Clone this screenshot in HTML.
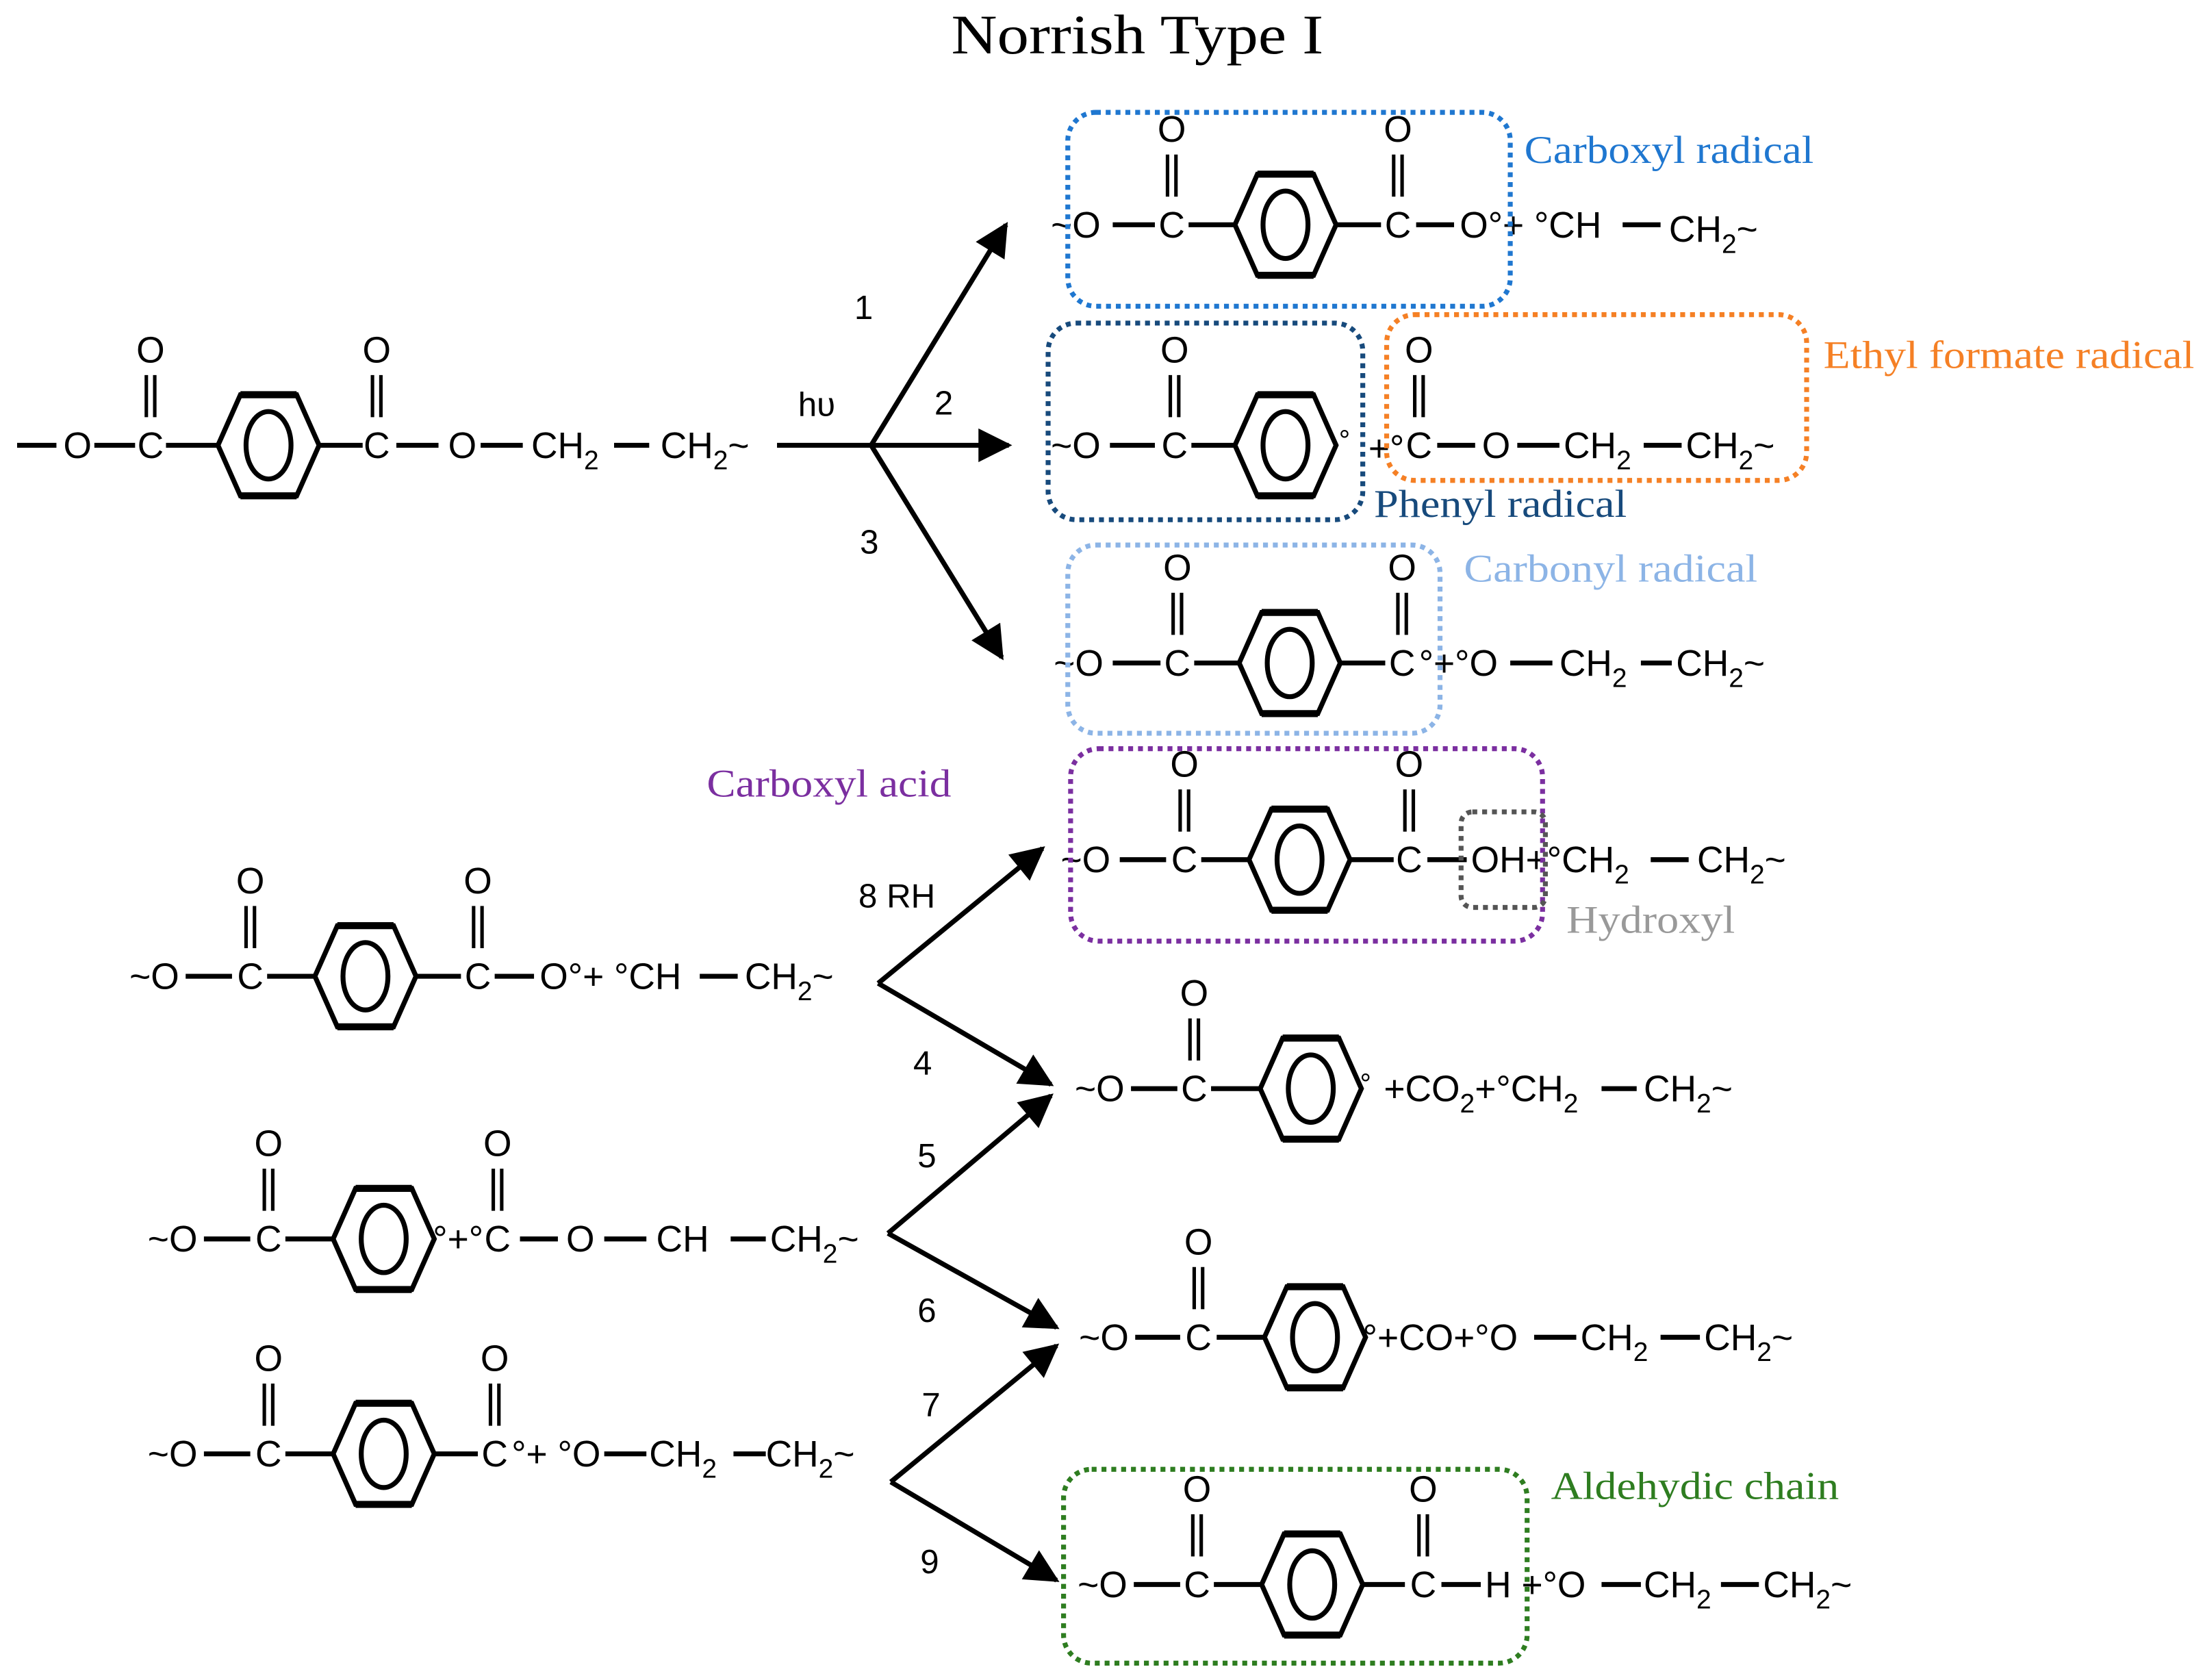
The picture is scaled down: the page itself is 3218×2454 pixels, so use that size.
<!DOCTYPE html>
<html><head><meta charset="utf-8"><style>
html,body{margin:0;padding:0;background:#fff}
svg{display:block}
.a{font-family:"Liberation Sans",Arial,sans-serif;font-size:26px;fill:#000}
.m{text-anchor:middle}
.l{font-family:"Liberation Serif",serif;font-size:28px}
.b line{stroke:#000;stroke-width:3.5}
.box{fill:none;stroke-width:3.5;stroke-dasharray:3.5 3.5}
</style></head><body>
<svg width="3218" height="2454" viewBox="0 0 1568 1196" xmlns="http://www.w3.org/2000/svg">
<defs>
<g id="bz"><polygon points="-36,0 -20,-36 20,-36 36,0 20,36 -20,36" fill="none" stroke="#000" stroke-width="3.5"/><line x1="-20" y1="-36" x2="20" y2="-36" stroke="#000" stroke-width="5"/><line x1="-20" y1="36" x2="20" y2="36" stroke="#000" stroke-width="5"/><ellipse cx="0" cy="0" rx="16" ry="24" fill="none" stroke="#000" stroke-width="3.5"/></g>
<g id="co"><line x1="-3" y1="-20" x2="-3" y2="-50" stroke="#000" stroke-width="2.5"/><line x1="3" y1="-20" x2="3" y2="-50" stroke="#000" stroke-width="2.5"/><text class="a m" x="0" y="-59">O</text><text class="a m" x="0" y="9">C</text></g>
<marker id="ah" viewBox="0 0 10 10" refX="9" refY="5" markerWidth="26" markerHeight="24" orient="auto" markerUnits="userSpaceOnUse"><path d="M0,0 L10,5 L0,10 z" fill="#000"/></marker>
</defs>

<text x="677" y="38" textLength="265" lengthAdjust="spacingAndGlyphs" style="font-family:'Liberation Serif',serif;font-size:40px">Norrish Type I</text>

<g class="b">
<!-- row 0 -->
<line x1="12" y1="317" x2="40" y2="317"/><text class="a m" x="55" y="326">O</text><line x1="67" y1="317" x2="96" y2="317"/>
<use href="#co" x="107" y="317"/><line x1="118" y1="317" x2="155" y2="317"/><use href="#bz" x="191" y="317"/>
<line x1="228" y1="317" x2="258" y2="317"/><use href="#co" x="268" y="317"/><line x1="282" y1="317" x2="312" y2="317"/>
<text class="a m" x="329" y="326">O</text><line x1="342" y1="317" x2="372" y2="317"/>
<text class="a" x="378" y="326">CH<tspan dy="8" font-size="19">2</tspan></text><line x1="437" y1="317" x2="462" y2="317"/>
<text class="a" x="470" y="326">CH<tspan dy="8" font-size="19">2</tspan><tspan dy="-8">~</tspan></text>
<text class="a" x="568" y="296" style="font-size:24px">hυ</text>
<line x1="553" y1="317" x2="620" y2="317"/>
<line x1="620" y1="317" x2="718" y2="317" stroke-width="2.5" marker-end="url(#ah)"/>
<line x1="620" y1="317" x2="716" y2="160" stroke-width="2.5" marker-end="url(#ah)"/>
<line x1="620" y1="317" x2="713" y2="468" stroke-width="2.5" marker-end="url(#ah)"/>
<text class="a" x="608" y="227" style="font-size:24px">1</text>
<text class="a" x="665" y="295" style="font-size:24px">2</text>
<text class="a" x="612" y="394" style="font-size:24px">3</text>

<!-- row 1 -->
<text class="a" x="748" y="169">~O</text><line x1="792" y1="160" x2="822" y2="160"/><use href="#co" x="834" y="160"/>
<line x1="846" y1="160" x2="878" y2="160"/><use href="#bz" x="915" y="160"/><line x1="952" y1="160" x2="983" y2="160"/>
<use href="#co" x="995" y="160"/><line x1="1008" y1="160" x2="1035" y2="160"/>
<text class="a" x="1039" y="169">O°+ °CH</text><line x1="1155" y1="160" x2="1182" y2="160"/>
<text class="a" x="1188" y="172">CH<tspan dy="8" font-size="19">2</tspan><tspan dy="-8">~</tspan></text>

<!-- row 2 -->
<text class="a" x="748" y="326">~O</text><line x1="790" y1="317" x2="822" y2="317"/><use href="#co" x="836" y="317"/>
<line x1="848" y1="317" x2="878" y2="317"/><use href="#bz" x="915" y="317"/>
<text class="a" x="953" y="320" style="font-size:20px">°</text>
<text class="a" x="974" y="328">+°</text><use href="#co" x="1010" y="317"/>
<line x1="1023" y1="317" x2="1050" y2="317"/><text class="a m" x="1065" y="326">O</text><line x1="1080" y1="317" x2="1110" y2="317"/>
<text class="a" x="1113" y="326">CH<tspan dy="8" font-size="19">2</tspan></text><line x1="1170" y1="317" x2="1197" y2="317"/>
<text class="a" x="1200" y="326">CH<tspan dy="8" font-size="19">2</tspan><tspan dy="-8">~</tspan></text>

<!-- row 3 -->
<text class="a" x="750" y="481">~O</text><line x1="792" y1="472" x2="826" y2="472"/><use href="#co" x="838" y="472"/>
<line x1="850" y1="472" x2="882" y2="472"/><use href="#bz" x="918" y="472"/><line x1="955" y1="472" x2="986" y2="472"/>
<use href="#co" x="998" y="472"/><text class="a" x="1010" y="481">°+°O</text><line x1="1075" y1="472" x2="1105" y2="472"/>
<text class="a" x="1110" y="481">CH<tspan dy="8" font-size="19">2</tspan></text><line x1="1168" y1="472" x2="1190" y2="472"/>
<text class="a" x="1193" y="481">CH<tspan dy="8" font-size="19">2</tspan><tspan dy="-8">~</tspan></text>

<!-- row 4 -->
<text class="a" x="755" y="621">~O</text><line x1="797" y1="612" x2="830" y2="612"/><use href="#co" x="843" y="612"/>
<line x1="855" y1="612" x2="888" y2="612"/><use href="#bz" x="925" y="612"/><line x1="962" y1="612" x2="992" y2="612"/>
<use href="#co" x="1003" y="612"/><line x1="1016" y1="612" x2="1044" y2="612"/>
<text class="a" x="1047" y="621">OH+°CH<tspan dy="8" font-size="19">2</tspan></text><line x1="1175" y1="612" x2="1202" y2="612"/>
<text class="a" x="1208" y="621">CH<tspan dy="8" font-size="19">2</tspan><tspan dy="-8">~</tspan></text>

<!-- row A -->
<text class="a" x="92" y="704">~O</text><line x1="132" y1="695" x2="165" y2="695"/><use href="#co" x="178" y="695"/>
<line x1="190" y1="695" x2="224" y2="695"/><use href="#bz" x="260" y="695"/><line x1="297" y1="695" x2="328" y2="695"/>
<use href="#co" x="340" y="695"/><line x1="352" y1="695" x2="380" y2="695"/>
<text class="a" x="384" y="704">O°+ °CH</text><line x1="498" y1="695" x2="525" y2="695"/>
<text class="a" x="530" y="704">CH<tspan dy="8" font-size="19">2</tspan><tspan dy="-8">~</tspan></text>
<line x1="625" y1="700" x2="742" y2="604" stroke-width="2.5" marker-end="url(#ah)"/>
<line x1="625" y1="700" x2="748" y2="772" stroke-width="2.5" marker-end="url(#ah)"/>
<text class="a" x="611" y="646" style="font-size:24px">8  RH</text>
<text class="a" x="650" y="765" style="font-size:24px">4</text>

<!-- row B -->
<text class="a" x="765" y="784">~O</text><line x1="805" y1="775" x2="838" y2="775"/><use href="#co" x="850" y="775"/>
<line x1="862" y1="775" x2="897" y2="775"/><use href="#bz" x="933" y="775"/>
<text class="a" x="968" y="778" style="font-size:20px">°</text>
<text class="a" x="985" y="784">+CO<tspan dy="8" font-size="19">2</tspan><tspan dy="-8">+°CH</tspan><tspan dy="8" font-size="19">2</tspan></text>
<line x1="1140" y1="775" x2="1165" y2="775"/>
<text class="a" x="1170" y="784">CH<tspan dy="8" font-size="19">2</tspan><tspan dy="-8">~</tspan></text>

<!-- row C -->
<text class="a" x="105" y="891">~O</text><line x1="145" y1="882" x2="178" y2="882"/><use href="#co" x="191" y="882"/>
<line x1="203" y1="882" x2="237" y2="882"/><use href="#bz" x="273" y="882"/>
<text class="a" x="308" y="891">°+°</text><use href="#co" x="354" y="882"/>
<line x1="370" y1="882" x2="397" y2="882"/><text class="a m" x="413" y="891">O</text><line x1="430" y1="882" x2="460" y2="882"/>
<text class="a" x="467" y="891">CH</text><line x1="520" y1="882" x2="545" y2="882"/>
<text class="a" x="548" y="891">CH<tspan dy="8" font-size="19">2</tspan><tspan dy="-8">~</tspan></text>
<line x1="632" y1="878" x2="748" y2="780" stroke-width="2.5" marker-end="url(#ah)"/>
<line x1="632" y1="878" x2="752" y2="945" stroke-width="2.5" marker-end="url(#ah)"/>
<text class="a" x="653" y="831" style="font-size:24px">5</text>
<text class="a" x="653" y="941" style="font-size:24px">6</text>

<!-- row D -->
<text class="a" x="768" y="961">~O</text><line x1="808" y1="952" x2="840" y2="952"/><use href="#co" x="853" y="952"/>
<line x1="866" y1="952" x2="900" y2="952"/><use href="#bz" x="936" y="952"/>
<text class="a" x="970" y="961">°+CO+°O</text><line x1="1092" y1="952" x2="1122" y2="952"/>
<text class="a" x="1125" y="961">CH<tspan dy="8" font-size="19">2</tspan></text><line x1="1182" y1="952" x2="1210" y2="952"/>
<text class="a" x="1213" y="961">CH<tspan dy="8" font-size="19">2</tspan><tspan dy="-8">~</tspan></text>

<!-- row E -->
<text class="a" x="105" y="1044">~O</text><line x1="145" y1="1035" x2="178" y2="1035"/><use href="#co" x="191" y="1035"/>
<line x1="203" y1="1035" x2="237" y2="1035"/><use href="#bz" x="273" y="1035"/><line x1="310" y1="1035" x2="340" y2="1035"/>
<use href="#co" x="352" y="1035"/><text class="a" x="364" y="1044">°+ °O</text><line x1="430" y1="1035" x2="460" y2="1035"/>
<text class="a" x="462" y="1044">CH<tspan dy="8" font-size="19">2</tspan></text><line x1="522" y1="1035" x2="545" y2="1035"/>
<text class="a" x="545" y="1044">CH<tspan dy="8" font-size="19">2</tspan><tspan dy="-8">~</tspan></text>
<line x1="634" y1="1055" x2="752" y2="958" stroke-width="2.5" marker-end="url(#ah)"/>
<line x1="634" y1="1055" x2="752" y2="1125" stroke-width="2.5" marker-end="url(#ah)"/>
<text class="a" x="656" y="1008" style="font-size:24px">7</text>
<text class="a" x="655" y="1120" style="font-size:24px">9</text>

<!-- row F -->
<text class="a" x="767" y="1137">~O</text><line x1="807" y1="1128" x2="840" y2="1128"/><use href="#co" x="852" y="1128"/>
<line x1="864" y1="1128" x2="898" y2="1128"/><use href="#bz" x="934" y="1128"/><line x1="970" y1="1128" x2="1000" y2="1128"/>
<use href="#co" x="1013" y="1128"/><line x1="1026" y1="1128" x2="1054" y2="1128"/>
<text class="a" x="1057" y="1137">H +°O</text><line x1="1140" y1="1128" x2="1168" y2="1128"/>
<text class="a" x="1170" y="1137">CH<tspan dy="8" font-size="19">2</tspan></text><line x1="1225" y1="1128" x2="1252" y2="1128"/>
<text class="a" x="1255" y="1137">CH<tspan dy="8" font-size="19">2</tspan><tspan dy="-8">~</tspan></text>
</g>

<!-- boxes -->
<rect class="box" x="760" y="80" width="315" height="138" rx="20" stroke="#1f77d0"/>
<rect class="box" x="746" y="230" width="224" height="140" rx="20" stroke="#174a7c"/>
<rect class="box" x="987" y="224" width="299" height="118" rx="20" stroke="#f58025"/>
<rect class="box" x="760" y="388" width="265" height="134" rx="20" stroke="#8cb4e6"/>
<rect class="box" x="762" y="533" width="336" height="137" rx="20" stroke="#7b2fa0"/>
<rect class="box" x="1040" y="578" width="60" height="68" rx="8" stroke="#555"/>
<rect class="box" x="757" y="1046" width="330" height="138" rx="20" stroke="#2e7d20"/>

<text class="l" x="1085" y="116" fill="#1f77d0" textLength="206" lengthAdjust="spacingAndGlyphs">Carboxyl radical</text>
<text class="l" x="1298" y="262" fill="#f58025" textLength="264" lengthAdjust="spacingAndGlyphs">Ethyl formate radical</text>
<text class="l" x="978" y="368" fill="#174a7c" textLength="180" lengthAdjust="spacingAndGlyphs">Phenyl radical</text>
<text class="l" x="1042" y="414" fill="#8cb4e6" textLength="209" lengthAdjust="spacingAndGlyphs">Carbonyl radical</text>
<text class="l" x="503" y="567" fill="#7b2fa0" textLength="174" lengthAdjust="spacingAndGlyphs">Carboxyl acid</text>
<text class="l" x="1115" y="664" fill="#999" textLength="120" lengthAdjust="spacingAndGlyphs">Hydroxyl</text>
<text class="l" x="1104" y="1067" fill="#2e7d20" textLength="205" lengthAdjust="spacingAndGlyphs">Aldehydic chain</text>
</svg>
</body></html>
